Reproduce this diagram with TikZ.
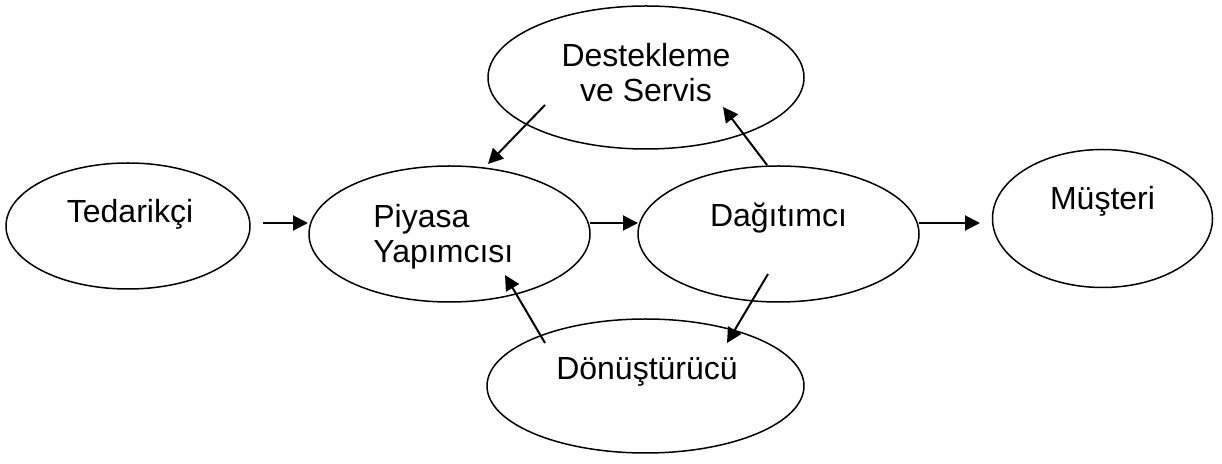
\documentclass[tikz,border=0pt]{standalone}
\usepackage{fontspec}
\setmainfont{Liberation Sans}
\usetikzlibrary{shapes.geometric,arrows.meta}

\tikzset{
  oval/.style={draw, ellipse, line width=0.75pt, inner sep=0pt},
  lbl/.style={inner sep=0pt, font=\fontsize{16}{17.5}\selectfont},
  flow/.style={-{Triangle[length=7.5pt,width=7.5pt]}, line width=1pt},
}

\begin{document}
\begin{tikzpicture}[x=0.5pt,y=0.5pt]
  \useasboundingbox (0,0) rectangle (1222,-464);
  % the six actors
  \node[oval, minimum width=122pt,   minimum height=63pt]   (ted) at (128,-226)    {};
  \node[oval, minimum width=140.5pt, minimum height=68pt]   (piy) at (449.5,-234)  {};
  \node[oval, minimum width=140.5pt, minimum height=68pt]   (dag) at (778.5,-234)  {};
  \node[oval, minimum width=110pt,   minimum height=69pt]   (mus) at (1102.5,-218.5) {};
  \node[oval, minimum width=158pt,   minimum height=71.5pt] (des) at (646,-77.5)   {};
  \node[oval, minimum width=158.5pt, minimum height=67pt]   (don) at (645.5,-386)  {};
  % their names (base of a two-line label is its last line)
  \node[lbl, anchor=base] (ted-t) at ([shift={(2,3)}]ted.center) {Tedarikçi};
  \node[lbl, anchor=base west, align=left] (piy-t) at ([shift={(-76.5,-29)}]piy.center) {Piyasa\\Yapımcısı};
  \node[lbl, anchor=base] (dag-t) at ([shift={(0,7)}]dag.center) {Dağıtımcı};
  \node[lbl, anchor=base] (mus-t) at ([shift={(0,8.5)}]mus.center) {Müşteri};
  \node[lbl, anchor=base, align=center] (des-t) at ([shift={(0,-24.5)}]des.center) {Destekleme\\ve Servis};
  \node[lbl, anchor=base] (don-t) at ([shift={(1.5,6)}]don.center) {Dönüştürücü};
  % main chain
  \draw[flow] ([shift={(135,3)}]ted.center) -- ([shift={(-141.5,11)}]piy.center);
  \draw[flow] ([shift={(140.5,11)}]piy.center) -- ([shift={(-140.5,11)}]dag.center);
  \draw[flow] ([shift={(140.5,11)}]dag.center) -- ([shift={(-122.5,-4.5)}]mus.center);
  % side loops
  \draw[flow] ([shift={(-101,-27.5)}]des.center) -- ([shift={(38.5,70)}]piy.center);
  \draw[flow] ([shift={(-11.5,69)}]dag.center) -- ([shift={(77,-29.5)}]des.center);
  \draw[flow] ([shift={(-10.5,-40)}]dag.center) -- ([shift={(81.5,43)}]don.center);
  \draw[flow] ([shift={(-100.5,43)}]don.center) -- ([shift={(55.5,-41)}]piy.center);
\end{tikzpicture}
\end{document}
